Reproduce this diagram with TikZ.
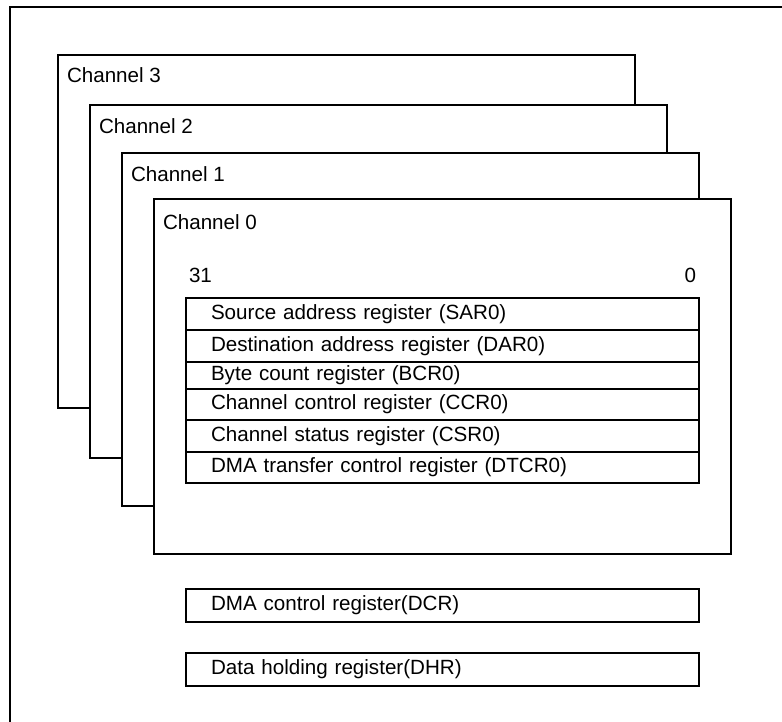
\documentclass[tikz,border=0pt]{standalone}
\usepackage{fontspec}
\setmainfont{Liberation Sans}
\begin{document}
\begin{tikzpicture}[x=1pt, y=-1pt, line width=2pt, font=\fontsize{20.6}{24}\selectfont,
  chan/.style={draw, fill=white, anchor=north west, minimum width=577pt, minimum height=353pt, inner sep=0pt},
  lbl/.style={anchor=west, inner sep=0pt},
  reg/.style={draw, anchor=north west, inner xsep=25pt, inner ysep=0pt, text width=463pt, align=left}]
  \useasboundingbox (0,0) rectangle (782,722);
  % outer frame, cut off on the right and at the bottom
  \coordinate (frametop) at (782,7);
  \coordinate (framebot) at (10,722);
  \draw (framebot) -- (10,7) -- (frametop);
  % channel boxes, back to front
  \node[chan] (ch3) at (57,54) {};
  \node[lbl] (ch3lbl) at ([xshift=9pt, yshift=-21pt]ch3.north west) {Channel 3};
  \node[chan] (ch2) at (89,104) {};
  \node[lbl] (ch2lbl) at ([xshift=9pt, yshift=-22pt]ch2.north west) {Channel 2};
  \node[chan] (ch1) at (121,152) {};
  \node[lbl] (ch1lbl) at ([xshift=9pt, yshift=-22pt]ch1.north west) {Channel 1};
  \node[chan, minimum height=355pt] (ch0) at (153,198) {};
  \node[lbl] (ch0lbl) at ([xshift=9pt, yshift=-24pt]ch0.north west) {Channel 0};
  \node[lbl] (msb) at ([xshift=35pt, yshift=-77pt]ch0.north west) {31};
  \node[lbl, anchor=east] (lsb) at ([xshift=-35pt, yshift=-77pt]ch0.north east) {0};
  % per-channel registers
  \node[reg, minimum height=32pt] (sar) at (185,297) {Source address register (SAR0)};
  \node[reg, minimum height=32pt] (dar) at (185,329) {Destination address register (DAR0)};
  \node[reg, minimum height=27pt] (bcr) at (185,361) {Byte count register (BCR0)};
  \node[reg, minimum height=31pt] (ccr) at (185,388) {Channel control register (CCR0)};
  \node[reg, minimum height=32pt] (csr) at (185,419) {Channel status register (CSR0)};
  \node[reg, minimum height=31pt] (dtcr) at (185,451) {DMA transfer control register (DTCR0)};
  % common registers
  \node[reg, minimum height=33pt] (dcr) at (185,588) {DMA control register(DCR)};
  \node[reg, minimum height=33pt] (dhr) at (185,652) {Data holding register(DHR)};
\end{tikzpicture}
\end{document}
